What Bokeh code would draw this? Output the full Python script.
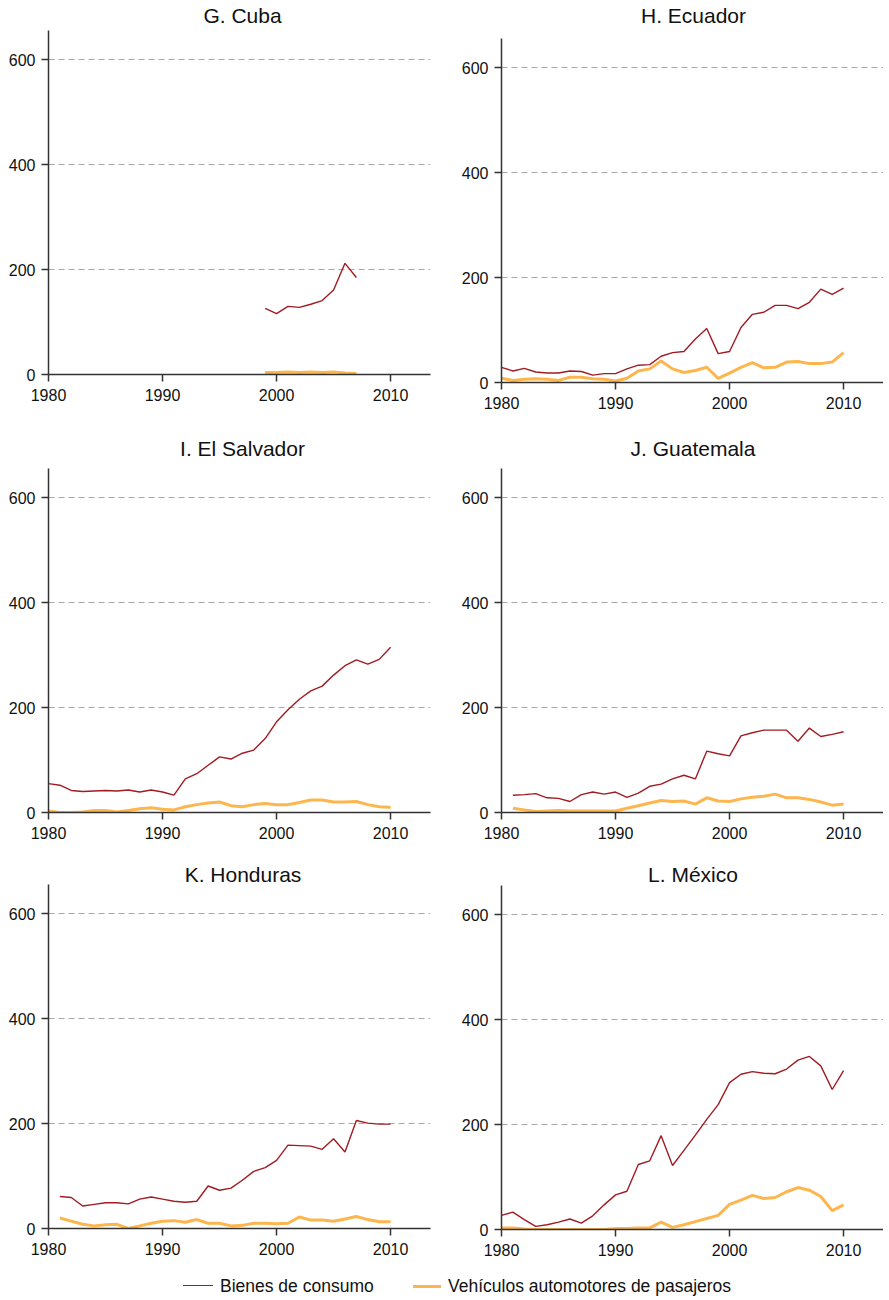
from bokeh.plotting import figure
from bokeh.layouts import column, row
from bokeh.models import Range1d, FixedTicker, Div
from bokeh.embed import file_html
from bokeh.resources import INLINE

RED = "#a01c22"
ORANGE = "#fdb64e"
FONT = "Liberation Sans"

x_ticks = [1980, 1990, 2000, 2010]
y_ticks = [0, 200, 400, 600]
serie_bienes = "Bienes de consumo"
serie_vehic = "Vehículos automotores de pasajeros"

# G. Cuba
cuba_years = list(range(1999, 2008))
cuba_bienes = [126, 116, 130, 128, 134, 141, 161, 212, 185]
cuba_vehic = [4, 4, 5, 4, 5, 4, 5, 3, 2]

# H. Ecuador
ecu_years = list(range(1980, 2011))
ecu_bienes = [29, 22, 27, 20, 18, 18, 22, 21, 14, 17, 17, 26, 33, 34, 50, 57,
              59, 83, 103, 55, 59, 105, 130, 134, 147, 147, 141, 153, 178, 168, 180]
ecu_vehic = [8, 4, 6, 7, 6, 4, 10, 10, 7, 6, 3, 8, 22, 26, 41, 26,
             19, 23, 29, 8, 18, 29, 38, 28, 29, 39, 40, 36, 36, 39, 57]

# I. El Salvador
sal_years = list(range(1980, 2011))
sal_bienes = [55, 52, 42, 40, 41, 42, 41, 43, 39, 43, 39, 33, 64, 74, 90, 106,
              102, 113, 119, 141, 173, 196, 216, 232, 241, 262, 280, 291, 283, 292, 315]
sal_vehic = [3, 0, 0, 1, 4, 4, 1, 4, 7, 9, 6, 5, 11, 15, 18, 20,
             13, 11, 15, 17, 15, 15, 19, 24, 24, 20, 20, 21, 15, 11, 10]

# J. Guatemala
gua_years = list(range(1981, 2011))
gua_bienes = [33, 34, 36, 28, 27, 21, 34, 39, 35, 39, 29, 37, 50, 54, 64, 71,
              64, 117, 112, 108, 146, 152, 157, 157, 157, 136, 161, 145, 149, 154]
gua_vehic = [8, 5, 2, 3, 4, 3, 3, 3, 3, 3, 8, 13, 18, 23, 21, 22,
             16, 28, 22, 21, 26, 29, 31, 35, 28, 28, 25, 20, 14, 16]

# K. Honduras
hon_years = list(range(1981, 2011))
hon_bienes = [61, 59, 43, 46, 49, 49, 47, 56, 60, 56, 52, 50, 52, 81, 73, 77,
              92, 109, 116, 130, 159, 158, 157, 151, 171, 146, 206, 201, 199, 199]
hon_vehic = [20, 14, 8, 5, 7, 8, 0, 5, 10, 14, 15, 12, 17, 10, 10, 5,
             6, 10, 10, 9, 10, 22, 16, 16, 14, 18, 23, 17, 13, 13]

# L. México
mex_years = list(range(1980, 2011))
mex_bienes = [27, 33, 19, 6, 9, 14, 20, 12, 26, 47, 66, 73, 124, 131, 179, 122,
              151, 180, 210, 238, 280, 296, 301, 298, 297, 306, 323, 330, 312, 267, 303]
mex_vehic = [3, 3, 1, 0, 0, 0, 0, 0, 0, 0, 2, 2, 3, 3, 14, 4,
             9, 15, 21, 27, 48, 56, 65, 59, 61, 72, 80, 75, 63, 36, 47]

FRAME_W = 382
FRAME_H = 344
LB_L, RB_L = 48, 14      # borders of the left-column panels
LB_R, RB_R = 57, 0       # borders of the right-column panels
W_L = LB_L + FRAME_W + RB_L
W_R = LB_R + FRAME_W + RB_R
W = W_L + W_R


def panel(years, bienes, vehic, left, right, top, bottom):
    p = figure(frame_width=FRAME_W, frame_height=FRAME_H,
               x_range=Range1d(1980, 2013.5), y_range=Range1d(0, 656),
               toolbar_location=None, output_backend="svg",
               min_border_left=left, min_border_right=right,
               min_border_top=top, min_border_bottom=bottom)
    p.outline_line_color = None
    p.xgrid.visible = False
    p.ygrid.ticker = FixedTicker(ticks=y_ticks)
    p.ygrid.grid_line_color = "#a8a8a8"
    p.ygrid.grid_line_dash = "6 4"
    p.ygrid.grid_line_width = 1
    p.xaxis.ticker = FixedTicker(ticks=x_ticks)
    p.yaxis.ticker = FixedTicker(ticks=y_ticks)
    for ax in (p.xaxis, p.yaxis):
        ax.axis_line_color = "#333333"
        ax.axis_line_width = 1.5
        ax.major_tick_line_color = "#333333"
        ax.major_tick_line_width = 1.5
        ax.major_tick_in = 0
        ax.major_tick_out = 7
        ax.minor_tick_line_color = None
        ax.major_label_text_font = FONT
        ax.major_label_text_font_size = "16px"
        ax.major_label_text_color = "#111111"
    p.xaxis.major_label_standoff = 7
    p.yaxis.major_label_standoff = 6
    p.line(years, bienes, line_color=RED, line_width=1.4)
    p.line(years, vehic, line_color=ORANGE, line_width=3)
    return p


def title_div(width, height, baseline, center, text):
    span = (f"position:absolute;top:{baseline - 19.25}px;left:{center}px;"
            "transform:translateX(-50%);white-space:nowrap;font-family:'Liberation Sans';"
            "font-size:21px;line-height:24px;color:#111111;")
    html = (f'<div style="position:relative;width:{width}px;height:{height}px;overflow:visible;">'
            f'<span style="{span}">{text}</span></div>')
    return Div(text=html, width=width, height=height, margin=(0, 0, 0, 0),
               styles={"overflow": "visible"})


def legend_div(height):
    txt = ("position:absolute;top:16px;left:{left}px;white-space:nowrap;"
           "font-family:'Liberation Sans';font-size:17.5px;line-height:20px;color:#111111;")
    ln = "position:absolute;left:{left}px;top:{top}px;width:{w}px;height:0;border-top:{lw}px solid {c};"
    html = (f'<div style="position:relative;width:{W}px;height:{height}px;overflow:visible;">'
            f'<span style="{ln.format(left=183, top=25.3, w=30, lw=1.5, c=RED)}"></span>'
            f'<span style="{txt.format(left=220)}">{serie_bienes}</span>'
            f'<span style="{ln.format(left=413, top=24.5, w=28, lw=3, c=ORANGE)}"></span>'
            f'<span style="{txt.format(left=448)}">{serie_vehic}</span>'
            '</div>')
    return Div(text=html, width=W, height=height, margin=(0, 0, 0, 0),
               styles={"overflow": "visible"})


left_col = column(
    title_div(W_L, 26, 23.5, 242.5, "G. Cuba"),
    panel(cuba_years, cuba_bienes, cuba_vehic, LB_L, RB_L, 4, 62),
    title_div(W_L, 26, 20.7, 242.5, "I. El Salvador"),
    panel(sal_years, sal_bienes, sal_vehic, LB_L, RB_L, 6, 50),
    title_div(W_L, 21, 20.3, 243, "K. Honduras"),
    panel(hon_years, hon_bienes, hon_vehic, LB_L, RB_L, 1, 32),
)
right_col = column(
    title_div(W_R, 26, 23.3, 693.5 - W_L, "H. Ecuador"),
    panel(ecu_years, ecu_bienes, ecu_vehic, LB_R, RB_R, 12, 54),
    title_div(W_R, 26, 20.0, 693 - W_L, "J. Guatemala"),
    panel(gua_years, gua_bienes, gua_vehic, LB_R, RB_R, 6, 50),
    title_div(W_R, 21, 20.0, 693 - W_L, "L. México"),
    panel(mex_years, mex_bienes, mex_vehic, LB_R, RB_R, 2, 31),
)

layout = column(row(left_col, right_col), legend_div(40))

open("out.html", "w").write(file_html(layout, INLINE))
